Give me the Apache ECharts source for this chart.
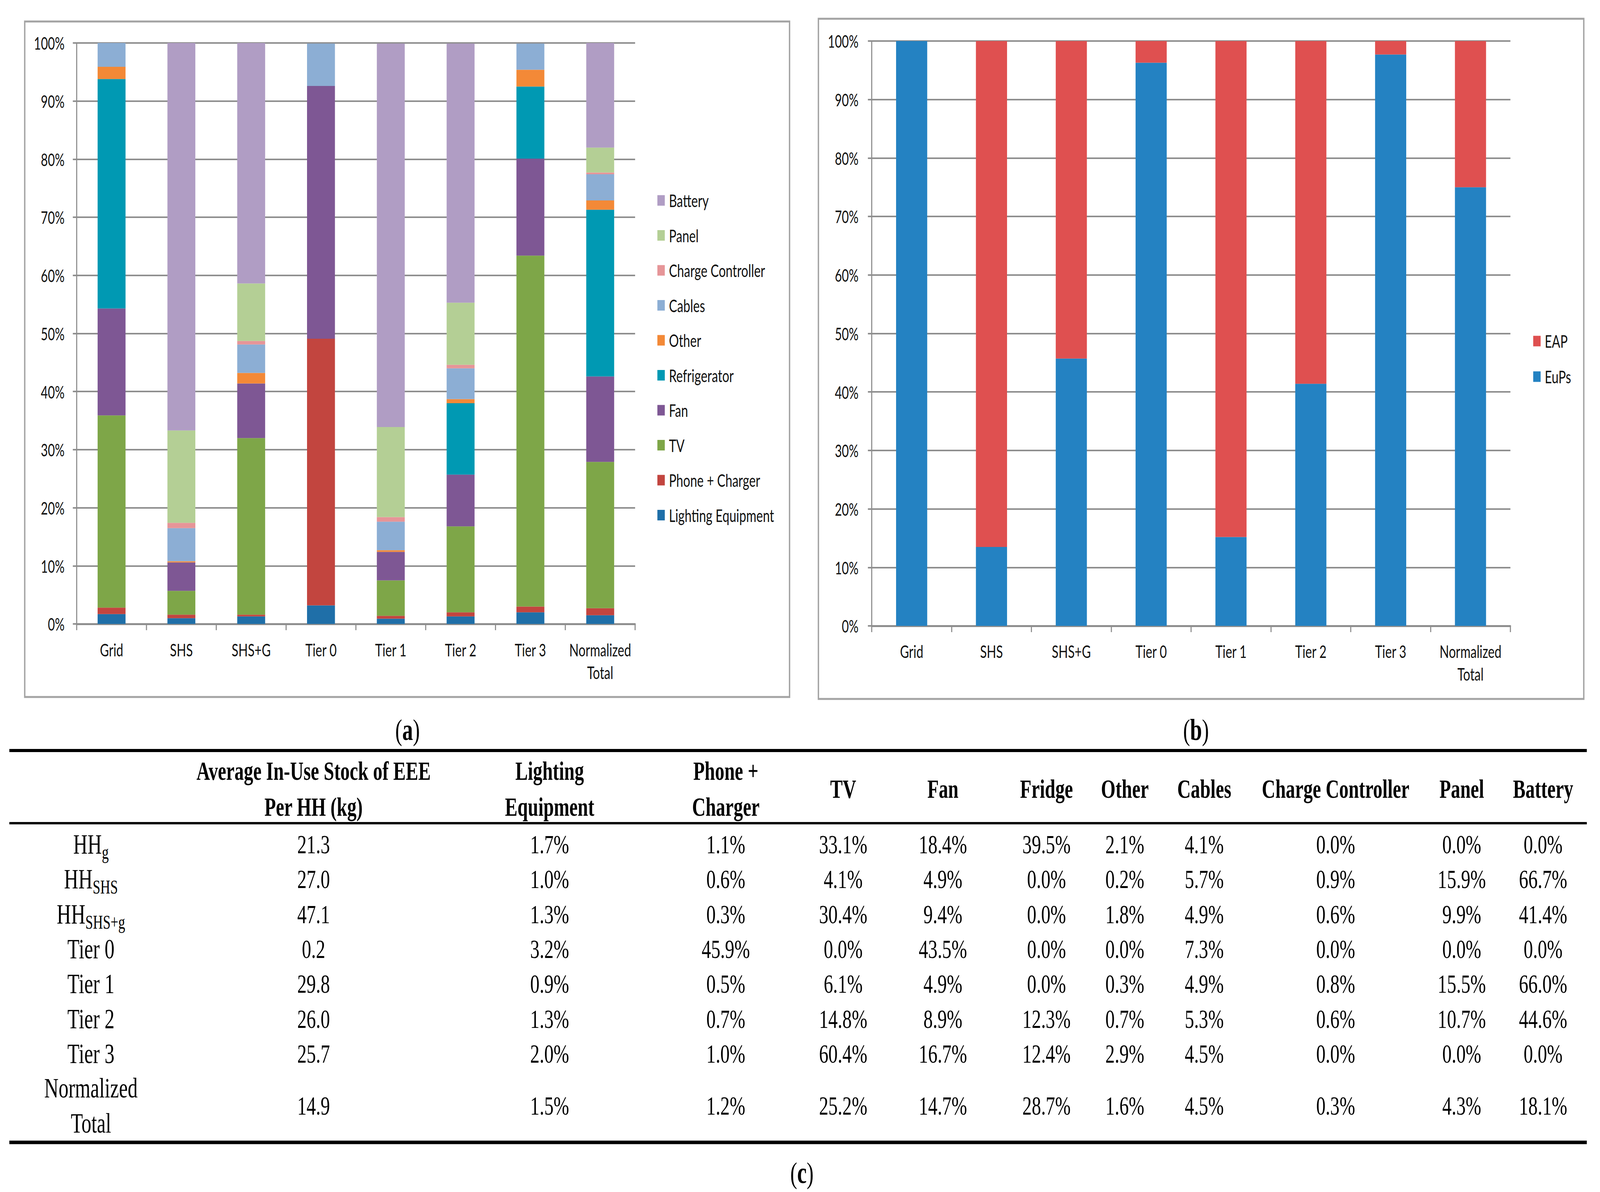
<!DOCTYPE html>
<html><head><meta charset="utf-8">
<script src="https://cdn.jsdelivr.net/npm/echarts@6/dist/echarts.min.js"></script>
<style>html,body{margin:0;padding:0;background:#fff;overflow:hidden}#c{width:5822px;height:3051px;transform-origin:0 0}</style>
</head><body><div id="c"></div>
<script>
// ---------- data ----------
const categories = ['Grid','SHS','SHS+G','Tier 0','Tier 1','Tier 2','Tier 3','Normalized\nTotal'];
const lighting   = [1.7, 1.0, 1.3, 3.2, 0.9, 1.3, 2.0, 1.5];
const phone      = [1.1, 0.6, 0.3, 45.9, 0.5, 0.7, 1.0, 1.2];
const tv         = [33.1, 4.1, 30.4, 0.0, 6.1, 14.8, 60.4, 25.2];
const fan        = [18.4, 4.9, 9.4, 43.5, 4.9, 8.9, 16.7, 14.7];
const fridge     = [39.5, 0.0, 0.0, 0.0, 0.0, 12.3, 12.4, 28.7];
const other      = [2.1, 0.2, 1.8, 0.0, 0.3, 0.7, 2.9, 1.6];
const cables     = [4.1, 5.7, 4.9, 7.3, 4.9, 5.3, 4.5, 4.5];
const chargeCtrl = [0.0, 0.9, 0.6, 0.0, 0.8, 0.6, 0.0, 0.3];
const panel      = [0.0, 15.9, 9.9, 0.0, 15.5, 10.7, 0.0, 4.3];
const battery    = [0.0, 66.7, 41.4, 0.0, 66.0, 44.6, 0.0, 18.1];
const eups = [100, 13.5, 45.7, 96.3, 15.2, 41.4, 97.7, 75.0];
const eap  = [0, 86.5, 54.3, 3.7, 84.8, 58.6, 2.3, 25.0];

const tableHeaders = ['Average In-Use Stock of EEE\nPer HH (kg)','Lighting\nEquipment','Phone +\nCharger','TV','Fan','Fridge','Other','Cables','Charge Controller','Panel','Battery'];
const tableRowLabels = ['{m|HH}{s|g}','{m|HH}{s|SHS}','{m|HH}{s|SHS+g}','{m|Tier 0}','{m|Tier 1}','{m|Tier 2}','{m|Tier 3}','{m|Normalized}\n{m|Total}'];
const stockKg = [21.3, 27.0, 47.1, 0.2, 29.8, 26.0, 25.7, 14.9];

// ---------- fit the 5822 x 3051 design to the window ----------
const el = document.getElementById('c');
const vw = window.innerWidth || 5822, vh = window.innerHeight || 3051;
el.style.transform = 'scale(' + (vw / 5822) + ',' + (vh / 3051) + ')';

// ---------- styles ----------
const SANS = 'Lato, "Open Sans", sans-serif';
const SERIF = '"Liberation Serif", "DejaVu Serif", serif';
const gridCol = '#8e8e8e';
const seriesDefs = [
  ['Lighting Equipment', lighting, '#1f6fa8'],
  ['Phone + Charger', phone, '#c2453f'],
  ['TV', tv, '#7ea648'],
  ['Fan', fan, '#7e5794'],
  ['Refrigerator', fridge, '#0099b3'],
  ['Other', other, '#f38937'],
  ['Cables', cables, '#8caed4'],
  ['Charge Controller', chargeCtrl, '#e69598'],
  ['Panel', panel, '#b4cf95'],
  ['Battery', battery, '#b09dc4']
];

function yAxisCfg(gi, margin) {
  return {
    type: 'value', gridIndex: gi, min: 0, max: 100, interval: 10,
    axisLabel: { formatter: '{value}%', fontFamily: SANS, fontSize: 44, color: '#111', margin: margin },
    axisLine: { show: true, lineStyle: { color: gridCol, width: 4 } },
    axisTick: { show: true, length: 14, lineStyle: { color: gridCol, width: 4 } },
    splitLine: { lineStyle: { color: gridCol, width: 4 } }
  };
}
function xAxisCfg(gi, margin) {
  return {
    type: 'category', gridIndex: gi, data: categories,
    axisLabel: { fontFamily: SANS, fontSize: 45, lineHeight: 58, color: '#111', margin: margin, interval: 0 },
    axisLine: { lineStyle: { color: gridCol, width: 5 } },
    axisTick: { show: true, length: 16, lineStyle: { color: gridCol, width: 4 } }
  };
}

const series = seriesDefs.map(d => ({
  name: d[0], type: 'bar', stack: 'a', xAxisIndex: 0, yAxisIndex: 0,
  data: d[1], itemStyle: { color: d[2] }, barCategoryGap: '60%'
}));
series.push({ name: 'EuPs', type: 'bar', stack: 'b', xAxisIndex: 1, yAxisIndex: 1, data: eups, itemStyle: { color: '#2482c2' }, barCategoryGap: '61%' });
series.push({ name: 'EAP', type: 'bar', stack: 'b', xAxisIndex: 1, yAxisIndex: 1, data: eap, itemStyle: { color: '#df5050' }, barCategoryGap: '61%' });

// ---------- frames, captions, table ----------
const graphics = [];
graphics.push({ type: 'rect', shape: { x: 90, y: 55, width: 2783, height: 1729 }, style: { fill: 'none', stroke: '#a3a3a3', lineWidth: 5 }, z: -1 });
graphics.push({ type: 'rect', shape: { x: 2978, y: 48, width: 2785, height: 1741 }, style: { fill: 'none', stroke: '#a3a3a3', lineWidth: 5 }, z: -1 });
const capRich = { p: { fontFamily: SERIF, fontSize: 76, fill: '#000' }, b: { fontFamily: SERIF, fontSize: 78, fontWeight: 900, fill: '#000' } };
[['a', 1483, 1868], ['b', 4352, 1868], ['c', 2918, 3002]].forEach(c => {
  graphics.push({ type: 'text', x: c[1], y: c[2], style: { text: '{p|(}{b|' + c[0] + '}{p|)}', rich: capRich, align: 'center', verticalAlign: 'middle' } });
});
[[1921, 8], [2107, 6], [2924, 9]].forEach(l => {
  graphics.push({ type: 'line', shape: { x1: 34, y1: l[0], x2: 5774, y2: l[0] }, style: { stroke: '#000', lineWidth: l[1] } });
});
const colX = [331, 1141, 2000, 2641, 3068, 3431, 3808, 4093, 4382, 4860, 5319, 5615];
tableHeaders.forEach((h, i) => {
  graphics.push({ type: 'text', x: colX[i + 1], y: 2019, style: { text: h, fontFamily: SERIF, fontSize: 68, fontWeight: 'bold', lineHeight: 92, fill: '#000', align: 'center', verticalAlign: 'middle' } });
});
const rowY = [2161, 2250, 2340, 2429, 2518, 2608, 2697, 2830];
const pctCols = [lighting, phone, tv, fan, fridge, other, cables, chargeCtrl, panel, battery];
const bodyRich = { m: { fontFamily: SERIF, fontSize: 72, fill: '#000', lineHeight: 90 }, s: { fontFamily: SERIF, fontSize: 50, fill: '#000', lineHeight: 62, verticalAlign: 'bottom' } };
tableRowLabels.forEach((lab, r) => {
  graphics.push({ type: 'text', x: colX[0], y: rowY[r], style: { text: lab, rich: bodyRich, align: 'center', verticalAlign: 'middle' } });
  graphics.push({ type: 'text', x: colX[1], y: rowY[r], style: { text: stockKg[r].toFixed(1), fontFamily: SERIF, fontSize: 68, fill: '#000', align: 'center', verticalAlign: 'middle' } });
  pctCols.forEach((col, c) => {
    graphics.push({ type: 'text', x: colX[c + 2], y: rowY[r], style: { text: col[r].toFixed(1) + '%', fontFamily: SERIF, fontSize: 68, fill: '#000', align: 'center', verticalAlign: 'middle' } });
  });
});

const legendText = { fontFamily: SANS, fontSize: 45, lineHeight: 46, color: '#111', padding: [0, 0, 0, 10] };
const option = {
  animation: false,
  backgroundColor: '#fff',
  grid: [
    { left: 279, top: 110, width: 2032, height: 1487 },
    { left: 3172, top: 105, width: 2324, height: 1497 }
  ],
  xAxis: [xAxisCfg(0, 37), xAxisCfg(1, 36)],
  yAxis: [yAxisCfg(0, 44), yAxisCfg(1, 48)],
  legend: [
    { orient: 'vertical', left: 2392, top: 490, padding: 0, itemWidth: 27, itemHeight: 27, itemGap: 43.5, icon: 'rect', textStyle: legendText,
      data: ['Battery','Panel','Charge Controller','Cables','Other','Refrigerator','Fan','TV','Phone + Charger','Lighting Equipment'] },
    { orient: 'vertical', left: 5579, top: 850, padding: 0, itemWidth: 27, itemHeight: 27, itemGap: 45, icon: 'rect', textStyle: legendText,
      data: ['EAP','EuPs'] }
  ],
  series: series,
  graphic: graphics
};
const chart = echarts.init(el, null, { renderer: 'svg', width: 5822, height: 3051 });
chart.setOption(option);
</script></body></html>
